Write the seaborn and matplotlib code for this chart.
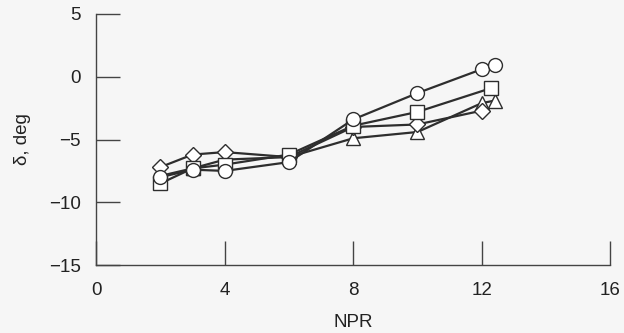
import pandas as pd
import matplotlib
matplotlib.use("Agg")
import matplotlib.pyplot as plt
import seaborn as sns

# --- data ---
circle_x = [2, 3, 4, 6, 8, 10, 12, 12.4]
circle_y = [-8.0, -7.4, -7.5, -6.8, -3.4, -1.3, 0.6, 0.9]

square_x = [2, 3, 4, 6, 8, 10, 12.3]
square_y = [-8.5, -7.3, -7.0, -6.2, -3.9, -2.8, -0.9]

diamond_x = [2, 3, 4, 6, 8, 10, 12]
diamond_y = [-7.2, -6.2, -6.0, -6.4, -4.0, -3.8, -2.7]

triangle_x = [2, 3, 4, 6, 8, 10, 12, 12.4]
triangle_y = [-7.9, -7.3, -6.6, -6.4, -4.9, -4.4, -2.1, -1.9]

x_ticks = [0, 4, 8, 12, 16]
y_ticks = [-15, -10, -5, 0, 5]

series = {
    "circle": (circle_x, circle_y, "o", 10),
    "square": (square_x, square_y, "s", 10),
    "diamond": (diamond_x, diamond_y, "D", 8.5),
    "triangle": (triangle_x, triangle_y, "^", 10.5),
}


def main():
    sns.set_theme(style="ticks")
    plt.rcParams["font.family"] = ["Liberation Sans", "DejaVu Sans"]

    bg = "#f6f6f6"
    fig = plt.figure(figsize=(6.24, 3.33), dpi=100, facecolor=bg)
    ax = fig.add_axes([0.154, 0.204, 0.824, 0.754], facecolor=bg)

    # draw back to front so circles sit on top like in the original
    for name in ["triangle", "diamond", "square", "circle"]:
        xs, ys, mk, ms = series[name]
        df = pd.DataFrame({"NPR": xs, "delta": ys})
        sns.lineplot(
            data=df, x="NPR", y="delta", ax=ax, sort=False,
            color="#2e2e2e", lw=1.6, marker=mk, markersize=ms,
            markerfacecolor="white", markeredgecolor="#2e2e2e",
            markeredgewidth=1.0,
        )

    ax.set_xlim(0, 16)
    ax.set_ylim(-15, 5)
    ax.set_xticks(x_ticks)
    ax.set_yticks(y_ticks)
    ax.set_yticklabels(["\u221215", "\u221210", "\u22125", "0", "5"])

    sns.despine(ax=ax)
    for sp in ["left", "bottom"]:
        ax.spines[sp].set_color("#444444")
        ax.spines[sp].set_linewidth(1.0)

    ax.tick_params(direction="in", length=17, width=1.0, color="#444444",
                   labelsize=13.5, labelcolor="#222222")
    ax.tick_params(axis="y", pad=11)
    ax.tick_params(axis="x", pad=12)

    ax.set_xlabel("NPR", fontsize=13.5, color="#222222", labelpad=11)
    ax.set_ylabel("\u03b4, deg", fontsize=13.5, color="#222222", labelpad=13)

    fig.savefig("out.png", dpi=100, facecolor=bg)


if __name__ == "__main__":
    main()
